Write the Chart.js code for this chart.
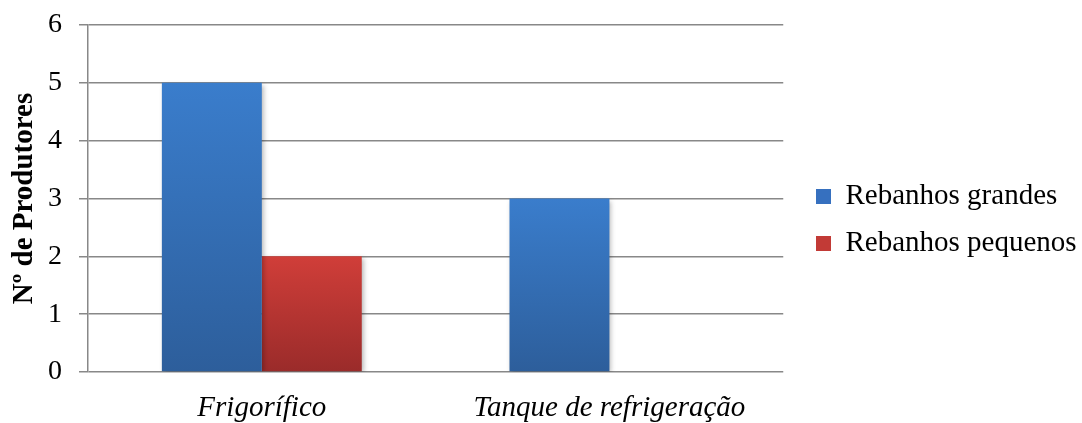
<!DOCTYPE html>
<html>
<head>
<meta charset="utf-8">
<script src="https://cdn.jsdelivr.net/npm/chart.js@4/dist/chart.umd.min.js"></script>
<style>
  html, body { margin: 0; padding: 0; background: #fff; }
  #wrap { width: 1082px; height: 423px; position: relative; }
</style>
</head>
<body>
<div id="wrap"><canvas id="chart"></canvas></div>
<script>
const categories = ['Frigorífico', 'Tanque de refrigeração']
const seriesNames = ['Rebanhos grandes', 'Rebanhos pequenos']
const grandes = [5, 3]
const pequenos = [2, 0]
const yTicks = [0, 1, 2, 3, 4, 5, 6]

const serif = '"Liberation Serif", "Times New Roman", serif'
const gridColor = '#888888'

function barGradient(top, bottom) {
  return ctx => {
    const { chart, parsed } = ctx
    if (!chart.chartArea || !parsed) return top
    const y = chart.scales.y
    const g = chart.ctx.createLinearGradient(0, y.getPixelForValue(parsed.y), 0, y.getPixelForValue(0))
    g.addColorStop(0, top)
    g.addColorStop(1, bottom)
    return g
  }
}

// soft drop shadow under the bars
const barShadow = {
  id: 'barShadow',
  beforeDatasetsDraw(chart) {
    const c = chart.ctx
    c.save()
    c.shadowColor = 'rgba(0, 0, 0, 0.3)'
    c.shadowBlur = 5
    c.shadowOffsetX = 2
    c.shadowOffsetY = 2
  },
  afterDatasetsDraw(chart) {
    chart.ctx.restore()
  }
}

// nudge the legend to where it sits in the original
const legendNudge = {
  id: 'legendNudge',
  afterLayout(chart) {
    const l = chart.legend
    l.left = 798
    l.right = chart.width
  }
}

const legendColors = ['#3670bf', '#c23a36']

new Chart(document.getElementById('chart'), {
  type: 'bar',
  data: {
    labels: categories,
    datasets: [
      {
        label: seriesNames[0],
        data: grandes,
        backgroundColor: barGradient('#3a7dcc', '#2d5e9b'),
        borderWidth: 0
      },
      {
        label: seriesNames[1],
        data: pequenos,
        backgroundColor: barGradient('#d03e39', '#9a2b2a'),
        borderWidth: 0
      }
    ]
  },
  options: {
    responsive: true,
    maintainAspectRatio: false,
    animation: false,
    layout: {
      padding: { left: 4, top: 17, right: 39, bottom: 0 }
    },
    datasets: {
      bar: {
        barPercentage: 1,
        categoryPercentage: 0.575
      }
    },
    plugins: {
      tooltip: { enabled: false },
      legend: {
        position: 'right',
        labels: {
          boxWidth: 15,
          boxHeight: 15,
          padding: 18,
          color: '#000',
          font: { family: serif, size: 29 },
          generateLabels: chart =>
            Chart.defaults.plugins.legend.labels.generateLabels(chart).map((item, i) => {
              item.fillStyle = legendColors[i]
              item.strokeStyle = legendColors[i]
              item.lineWidth = 0
              return item
            })
        }
      }
    },
    scales: {
      x: {
        grid: { display: false, drawTicks: false },
        border: { display: false },
        ticks: {
          padding: 19,
          color: '#000',
          font: { family: serif, size: 29, style: 'italic' }
        },
        afterFit: scale => { scale.height = 51 }
      },
      y: {
        min: 0,
        max: 6,
        afterBuildTicks: scale => {
          scale.ticks = yTicks.map(v => ({ value: v }))
        },
        grid: {
          color: gridColor,
          lineWidth: 1.5,
          tickLength: 9
        },
        border: { color: gridColor, width: 1.5 },
        ticks: {
          padding: 17,
          color: '#000',
          font: { family: serif, size: 28 }
        },
        title: {
          display: true,
          text: 'Nº de Produtores',
          color: '#000',
          padding: { top: 3, bottom: 4 },
          font: { family: serif, size: 29, weight: 'bold' }
        },
        afterFit: scale => {
          scale.width = 84
          scale.paddingTop = 25
        }
      }
    }
  },
  plugins: [barShadow, legendNudge]
})
</script>
</body>
</html>
